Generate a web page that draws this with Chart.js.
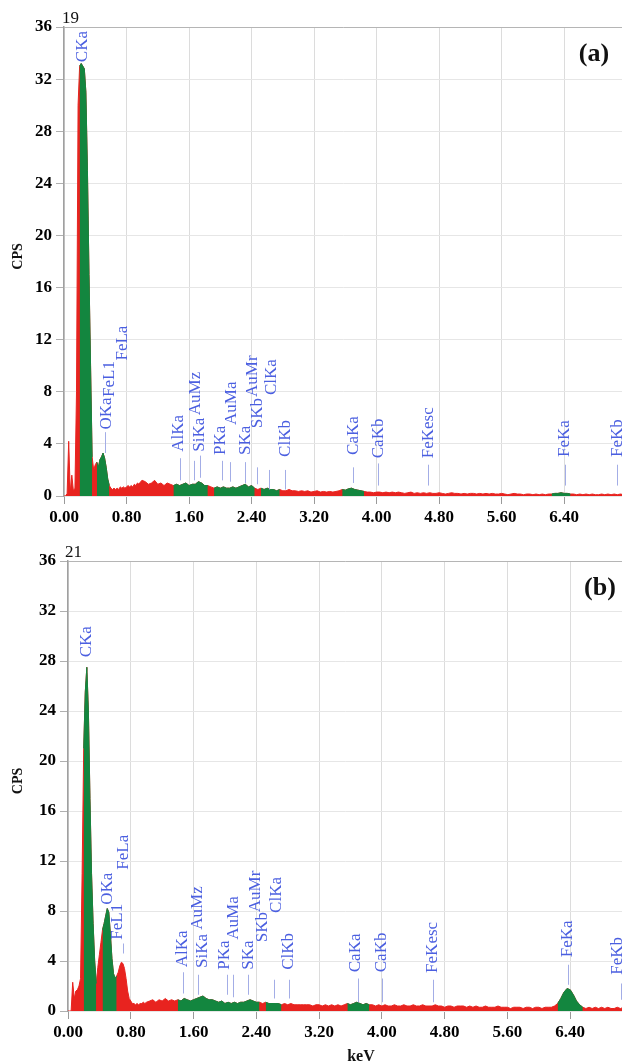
<!DOCTYPE html>
<html><head><meta charset="utf-8">
<script src="https://cdn.jsdelivr.net/npm/chart.js@4.4.1/dist/chart.umd.min.js"></script>
<style>
html,body{margin:0;padding:0;background:#fff;}
body{width:622px;height:1063px;position:relative;overflow:hidden;}
canvas{position:absolute;left:0;}
#ca{top:0;} #cb{top:532px;}
</style></head><body>
<canvas id="ca" width="622" height="532"></canvas>
<canvas id="cb" width="622" height="531"></canvas>
<script>
// ---------- data ----------
const kevTicks = [0, 0.8, 1.6, 2.4, 3.2, 4.0, 4.8, 5.6, 6.4];
const cpsTicks = [0, 4, 8, 12, 16, 20, 24, 28, 32, 36];

const lowStep = 0.02;      // 0.00 - 1.00 keV
const highStart = 1.04;    // 1.04 - 7.16 keV
const highStep = 0.04;

// panel (a)
const cpsLowA = [0,0,0.2,4.2,0.3,1.6,0.4,0.6,8,30,33,33.2,33,32.8,31,25,17,10,3,2.0,2.4,2.6,2.2,2.8,3.0,3.3,2.9,2.2,1.3,0.8,0.6,0.5,0.6,0.5,0.6,0.5,0.7,0.6,0.7,0.6,0.7,0.8,0.7,0.8,0.7,0.9,0.8,1.0,0.9,1.1,1.2];
const cpsHighA = [
 1.1,0.9,1.0,1.2,0.9,1.0,0.8,1.0,0.9,0.8,
 0.9,0.8,0.9,1.0,0.8,0.9,0.9,1.1,1.0,0.8,
 0.8,0.7,0.6,0.7,0.6,0.7,0.6,0.6,0.7,0.6,
 0.7,0.8,0.9,0.7,0.8,0.6,0.5,0.6,0.5,0.6,
 0.5,0.5,0.4,0.5,0.4,0.4,0.5,0.4,0.4,0.35,
 0.4,0.35,0.4,0.3,0.35,0.4,0.3,0.35,0.3,0.35,
 0.3,0.35,0.4,0.5,0.45,0.55,0.6,0.5,0.45,0.4,
 0.35,0.3,0.3,0.25,0.3,0.3,0.25,0.3,0.25,0.3,
 0.25,0.3,0.25,0.2,0.25,0.3,0.2,0.25,0.2,0.25,
 0.2,0.25,0.2,0.2,0.25,0.2,0.15,0.2,0.25,0.2,
 0.2,0.15,0.2,0.15,0.2,0.2,0.15,0.2,0.15,0.2,
 0.15,0.2,0.15,0.15,0.2,0.15,0.1,0.15,0.2,0.15,
 0.15,0.1,0.15,0.15,0.1,0.15,0.1,0.15,0.1,0.15,
 0.15,0.2,0.2,0.25,0.2,0.2,0.15,0.15,0.1,0.15,
 0.1,0.15,0.1,0.15,0.1,0.1,0.15,0.1,0.15,0.1,
 0.15,0.1,0.15,0.1];
const greenKeVA = [[0.19,0.36],[0.42,0.59],[1.37,1.61],[1.64,1.87],[1.90,2.46],[2.50,2.77],[3.55,3.86],[6.22,6.48]];
const peakNamesA = ['CKa','OKa','FeL1','FeLa','AlKa','AuMz','SiKa','PKa','AuMa','SKa','AuMr','SKb','ClKa','ClKb','CaKa','CaKb','FeKesc','FeKa','FeKb'];
const peakKeVA   = [0.243,0.538,0.589,0.755,1.46,1.68,1.73,2.0,2.14,2.32,2.41,2.47,2.66,2.83,3.70,4.02,4.66,6.41,7.08];
const peakBaseA  = [33.3,5.1,7.6,10.4,3.4,6.2,3.4,3.15,5.45,3.15,7.6,5.2,7.75,3.0,3.15,2.9,2.9,3.0,3.0];
const markerKeVA = [0.525,1.485,1.66,1.74,2.02,2.13,2.32,2.47,2.62,2.83,3.70,4.02,4.66,6.41,7.08];
const markerLoA  = [3.3,1.2,1.2,1.4,1.2,1.1,1.0,0.9,0.5,0.5,1.0,0.8,0.8,0.8,0.8];
const markerHiA  = [4.9,2.9,2.7,3.1,2.7,2.6,2.6,2.2,2.0,2.0,2.2,2.5,2.4,2.4,2.4];

// panel (b)
const cpsLowB = [0,0,0,2.3,1.0,1.6,1.7,2.0,2.6,11,21,25.5,27.5,24,17,11,7,4,2.2,3.5,4.5,5.5,6.5,7.0,7.6,8.2,7.9,6.2,4.2,3.0,2.6,2.8,3.1,3.6,3.9,3.8,3.4,2.6,1.6,1.0,0.8,0.6,0.6,0.5,0.6,0.5,0.6,0.6,0.7,0.6,0.7];
const cpsHighB = [
 0.8,0.9,0.7,0.9,0.8,1.0,0.8,0.9,0.8,0.9,
 0.8,1.0,0.9,0.8,0.9,1.0,1.1,1.2,1.0,0.9,
 0.9,0.8,0.7,0.8,0.6,0.7,0.6,0.7,0.6,0.7,
 0.7,0.8,0.9,0.8,0.7,0.7,0.6,0.7,0.6,0.6,
 0.6,0.6,0.5,0.6,0.5,0.6,0.5,0.5,0.5,0.5,
 0.5,0.5,0.4,0.5,0.5,0.4,0.5,0.4,0.5,0.4,
 0.5,0.4,0.5,0.6,0.5,0.6,0.7,0.6,0.5,0.6,
 0.5,0.5,0.4,0.5,0.4,0.5,0.4,0.4,0.5,0.4,
 0.4,0.5,0.4,0.4,0.5,0.4,0.4,0.5,0.4,0.4,
 0.4,0.5,0.4,0.4,0.3,0.4,0.4,0.3,0.4,0.4,
 0.4,0.3,0.4,0.3,0.4,0.3,0.3,0.4,0.3,0.3,
 0.3,0.4,0.3,0.3,0.3,0.2,0.3,0.3,0.3,0.2,
 0.3,0.3,0.2,0.3,0.3,0.2,0.3,0.3,0.3,0.4,
 0.6,1.0,1.5,1.8,1.7,1.3,0.8,0.5,0.3,0.2,
 0.3,0.2,0.3,0.2,0.3,0.2,0.3,0.2,0.2,0.3,
 0.2,0.3,0.2,0.3];
const greenKeVB = [[0.19,0.37],[0.43,0.62],[1.39,1.61],[1.63,1.85],[1.88,2.45],[2.49,2.75],[3.53,3.84],[6.22,6.58]];
const peakNamesB = ['CKa','OKa','FeL1','FeLa','AlKa','AuMz','SiKa','PKa','AuMa','SKa','AuMr','SKb','ClKa','ClKb','CaKa','CaKb','FeKesc','FeKa','FeKb'];
const peakKeVB   = [0.233,0.50,0.628,0.705,1.456,1.647,1.71,1.99,2.106,2.297,2.386,2.475,2.653,2.81,3.67,4.0,4.64,6.37,7.0];
const peakBaseB  = [28.3,8.5,5.7,11.3,3.5,6.5,3.45,3.3,5.7,3.3,7.9,5.5,7.85,3.3,3.1,3.1,3.05,4.3,2.9];
const markerKeVB = [0.705,1.47,1.66,2.03,2.106,2.297,2.62,2.81,3.69,4.0,4.65,6.37,7.05];
const markerLoB  = [4.6,1.4,1.3,1.3,1.1,1.3,1.0,1.0,0.7,0.7,0.7,2.1,0.9];
const markerHiB  = [5.4,3.1,2.9,2.9,2.9,2.9,2.5,2.5,2.6,2.6,2.5,3.7,2.2];

// ---------- helpers ----------
function buildPoints(low, high) {
  const pts = [];
  low.forEach((v, i) => pts.push({ x: +(i * lowStep).toFixed(2), y: v }));
  high.forEach((v, i) => pts.push({ x: +(highStart + i * highStep).toFixed(2), y: v }));
  return pts;
}
function greenPoints(pts, ranges) {
  return pts.map(p => ranges.some(([a, b]) => p.x >= a - 1e-9 && p.x <= b + 1e-9) ? p : { x: p.x, y: null });
}

const SERIF = '"Liberation Serif", "Times New Roman", serif';
Chart.defaults.font.family = SERIF;

const annot = {
  id: 'annot',
  afterDraw(chart, args, o) {
    const { ctx } = chart;
    const x = chart.scales.x, y = chart.scales.y;
    ctx.save();
    ctx.strokeStyle = '#a3ade6';
    ctx.lineWidth = 1;
    o.markerKeV.forEach((e, i) => {
      const px = Math.round(x.getPixelForValue(e)) + 0.5;
      ctx.beginPath();
      ctx.moveTo(px, y.getPixelForValue(o.markerLo[i]));
      ctx.lineTo(px, y.getPixelForValue(o.markerHi[i]));
      ctx.stroke();
    });
    ctx.fillStyle = '#4b5fe0';
    ctx.font = '17px ' + SERIF;
    ctx.textAlign = 'left';
    ctx.textBaseline = 'middle';
    o.names.forEach((n, i) => {
      ctx.save();
      ctx.translate(x.getPixelForValue(o.keV[i]), y.getPixelForValue(o.base[i]));
      ctx.rotate(-Math.PI / 2);
      ctx.fillText(n, 0, 0);
      ctx.restore();
    });
    ctx.fillStyle = '#111';
    ctx.font = '17px ' + SERIF;
    ctx.textBaseline = 'alphabetic';
    ctx.fillText(o.count, x.left + o.countDx, y.top - 4);
    ctx.font = 'bold 26px ' + SERIF;
    ctx.textAlign = 'center';
    ctx.textBaseline = 'middle';
    ctx.fillText(o.letter, o.letterX, y.top + o.letterDy);
    ctx.save();
    ctx.translate(18, (y.top + y.bottom) / 2 - 5);
    ctx.rotate(-Math.PI / 2);
    ctx.font = 'bold 14px ' + SERIF;
    ctx.fillText('CPS', 0, 0);
    ctx.restore();
    if (o.xTitle) {
      ctx.font = 'bold 16px ' + SERIF;
      ctx.fillText(o.xTitle, 361, chart.height - 6);
    }
    ctx.restore();
  }
};

function makeChart(id, low, high, ranges, xMax, yWidth, xHeight, padTop, ann) {
  const pts = buildPoints(low, high);
  return new Chart(document.getElementById(id), {
    type: 'line',
    data: {
      datasets: [
        { data: greenPoints(pts, ranges), borderColor: '#13863f', backgroundColor: '#13863f', fill: 'origin', spanGaps: false },
        { data: pts, borderColor: '#e8231f', backgroundColor: '#e8231f', fill: 'origin' }
      ]
    },
    options: {
      responsive: false,
      animation: false,
      devicePixelRatio: 1,
      layout: { padding: { top: padTop, left: 0, right: 0, bottom: 0 } },
      elements: { point: { radius: 0 }, line: { borderWidth: 1, tension: 0 } },
      plugins: { legend: { display: false }, tooltip: { enabled: false }, annot: ann },
      scales: {
        x: {
          type: 'linear', min: 0, max: xMax,
          afterBuildTicks: s => { s.ticks = kevTicks.map(v => ({ value: v })); },
          afterFit: s => { s.height = xHeight; },
          border: { display: false },
          grid: { color: '#dcdcdc', tickColor: '#9a9a9a', tickLength: 8 },
          ticks: { padding: 3, color: '#000', maxRotation: 0, font: { size: 17, weight: 'bold' },
                   callback: v => Number(v).toFixed(2) }
        },
        y: {
          min: 0, max: 36,
          afterBuildTicks: s => { s.ticks = cpsTicks.map(v => ({ value: v })); },
          afterFit: s => { s.width = yWidth; },
          border: { color: '#a0a0a0', width: 1.5 },
          grid: { color: c => (c.tick && c.tick.value === 36) ? '#b5b5b5' : '#e6e6e6', tickColor: '#b0b0b0', tickLength: 8 },
          ticks: { padding: 4, color: '#000', font: { size: 17, weight: 'bold' } }
        }
      }
    },
    plugins: [annot]
  });
}

makeChart('ca', cpsLowA, cpsHighA, greenKeVA, 7.14, 64, 36, 27, {
  names: peakNamesA, keV: peakKeVA, base: peakBaseA,
  markerKeV: markerKeVA, markerLo: markerLoA, markerHi: markerHiA,
  count: '19', countDx: -2, letter: '(a)', letterX: 594, letterDy: 27, xTitle: null
});
makeChart('cb', cpsLowB, cpsHighB, greenKeVB, 7.06, 68, 52, 29, {
  names: peakNamesB, keV: peakKeVB, base: peakBaseB,
  markerKeV: markerKeVB, markerLo: markerLoB, markerHi: markerHiB,
  count: '21', countDx: -3, letter: '(b)', letterX: 600, letterDy: 27, xTitle: 'keV'
});
</script>
</body></html>
